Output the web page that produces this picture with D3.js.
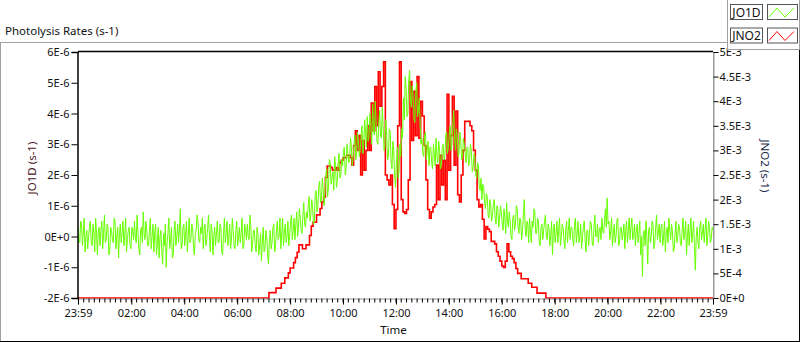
<!DOCTYPE html>
<html>
<head>
<meta charset="utf-8">
<script src="https://cdn.jsdelivr.net/npm/d3@7"></script>
<style>
  body { margin: 0; background: #fff; }
  svg text { font-family: "Noto Sans", sans-serif; fill: #111; }
</style>
</head>
<body>
<div id="chart"></div>
<script>
// ---- data ----
const chartTitle = "Photolysis Rates (s-1)";
const xTitle = "Time";
const leftTitle = "JO1D (s-1)";
const rightTitle = "JNO2 (s-1)";
const seriesNames = ["JO1D", "JNO2"];

const xTickLabels = ["23:59", "02:00", "04:00", "06:00", "08:00", "10:00", "12:00",
  "14:00", "16:00", "18:00", "20:00", "22:00", "23:59"];
// left axis, units of 1E-6 s-1
const leftTickValues = [-2, -1, 0, 1, 2, 3, 4, 5, 6];
const leftTickLabels = ["-2E-6", "-1E-6", "0E+0", "1E-6", "2E-6", "3E-6", "4E-6", "5E-6", "6E-6"];
// right axis, units of 1E-3 s-1
const rightTickValues = [0, 0.5, 1, 1.5, 2, 2.5, 3, 3.5, 4, 4.5, 5];
const rightTickLabels = ["0E+0", "5E-4", "1E-3", "1.5E-3", "2E-3", "2.5E-3", "3E-3",
  "3.5E-3", "4E-3", "4.5E-3", "5E-3"];

// JO1D, one value every 2 min from 23:59 (previous day), units of 1E-6 s-1
const jo1dStart = "23:59";
const jo1dStepMin = 2;
const jo1d = [
  0.3, -0.1, -0.2, 0.5, 0.4, -0.3, 0.1, 0.6, -0.5, 0.0, 0.2, -0.4, 0.0, 0.3, 0.5, -0.2, -0.3, 0.4, 0.1, -0.5,
  0.6, 0.1, -0.6, 0.2, 0.3, -0.3, 0.2, 0.5, -0.4, 0.1, 0.7, -0.2, -0.1, 0.4, 0.3, -0.6, -0.5, 0.3, 0.2, -0.1,
  -0.2, 0.6, 0.5, -0.4, 0.0, 0.3, -0.7, 0.1, 0.4, -0.2, 0.1, 0.5, -0.3, 0.0, 0.6, -0.5, -0.1, 0.2, 0.3, -0.3,
  -0.4, 0.3, 0.2, -0.1, 0.5, 0.0, -0.2, 0.7, 0.1, -0.4, -0.6, 0.2, 0.3, -0.2, 0.8, 0.1, -0.1, 0.5, 0.2, -0.3,
  -0.3, 0.2, 0.6, -0.4, 0.0, 0.4, -0.5, 0.1, 0.4, -0.6, -0.2, 0.3, -0.7, 0.0, 0.2, -0.5, -0.9, 0.1, -0.3, 0.4,
  -1.0, -0.2, 0.1, 0.6, -0.4, -0.1, 0.3, -0.7, -0.6, 0.2, 0.5, -0.3, 0.0, 0.4, -0.2, 0.2, 0.9, -0.4, -0.3, 0.3,
  0.4, -0.3, 0.1, 0.5, -0.5, 0.0, 0.6, -0.2, -0.1, 0.4, 0.3, -0.4, -0.6, 0.1, 0.2, 0.7, 0.5, -0.1, -0.2, 0.3,
  0.1, 0.6, -0.4, 0.2, 0.4, -0.3, -0.1, 0.3, 0.7, 0.0, -0.5, 0.4, 0.2, -0.6, 0.0, 0.3, -0.3, 0.1, 0.5, -0.2,
  -0.2, 0.4, 0.3, -0.5, -0.6, 0.1, 0.6, -0.2, 0.1, 0.5, -0.3, 0.0, 0.4, -0.4, -0.1, 0.6, 0.2, -0.3, -0.4, 0.2,
  0.5, -0.3, 0.0, 0.3, -0.2, 0.1, 0.6, -0.4, -0.3, 0.4, 0.2, -0.1, 0.4, 0.0, -0.1, 0.7, 0.3, -0.5, -0.2, 0.2,
  0.2, -0.3, -0.5, 0.3, 0.1, -0.6, -0.3, 0.1, -0.8, -0.2, 0.3, -0.5, -0.4, 0.2, 0.0, -0.6, -0.9, -0.1, 0.2, -0.4,
  -0.2, 0.3, 0.4, -0.5, -0.3, 0.2, 0.5, -0.1, 0.0, 0.6, -0.4, 0.1, 0.6, -0.3, 0.1, 0.4, -0.2, 0.0, 0.5, -0.3,
  0.0, 0.5, 0.7, -0.1, 0.2, 0.6, -0.1, 0.4, 0.8, 0.0, 0.3, 0.9, 0.6, 0.2, 0.1, 0.7, 1.1, 0.4, 0.3, 0.8,
  0.6, 1.0, 1.3, 0.5, 0.7, 1.2, 1.0, 0.4, 0.5, 1.4, 1.5, 0.8, 1.0, 1.6, 1.8, 1.1, 1.2, 1.9, 1.6, 1.0,
  1.4, 2.0, 2.2, 1.3, 1.6, 2.5, 2.4, 1.7, 1.9, 2.1, 1.5, 2.6, 2.3, 1.6, 1.8, 2.4, 2.7, 1.9, 2.0, 2.5,
  2.3, 2.8, 2.9, 2.0, 2.2, 3.0, 2.7, 2.4, 2.5, 3.2, 2.9, 2.3, 2.6, 3.0, 3.3, 2.5, 2.7, 3.4, 3.1, 2.6,
  2.8, 3.3, 3.6, 2.7, 3.0, 3.8, 3.4, 2.9, 3.9, 3.1, 3.2, 4.0, 3.7, 3.0, 4.3, 3.5, 3.3, 4.4, 3.8, 3.1,
  3.0, 3.7, 4.1, 3.3, 3.2, 4.2, 3.6, 2.8, 2.9, 3.8, 3.3, 2.5, 2.6, 3.5, 3.4, 2.4, 2.2, 3.1, 2.8, 2.0,
  1.6, 2.4, 2.9, 1.9, 2.1, 3.0, 2.6, 3.5, 3.2, 4.5, 3.8, 5.2, 4.8, 3.9, 4.0, 5.1, 5.4, 4.4, 4.2, 4.9,
  4.6, 3.8, 3.7, 4.7, 5.0, 3.9, 4.1, 4.5, 3.6, 3.0, 3.2, 2.7, 2.6, 3.3, 3.4, 2.5, 2.8, 3.1, 2.3, 2.9,
  2.9, 2.4, 2.2, 3.0, 2.7, 2.3, 3.2, 2.6, 2.4, 3.1, 2.8, 2.2, 2.3, 2.9, 3.0, 2.5, 2.6, 3.3, 3.4, 2.7,
  2.9, 3.4, 3.6, 2.8, 3.0, 3.7, 4.1, 3.2, 2.8, 3.5, 3.3, 2.6, 2.7, 3.4, 3.1, 2.5, 2.6, 3.2, 3.0, 2.7,
  2.4, 2.9, 2.9, 2.3, 2.5, 3.0, 2.8, 2.1, 2.2, 2.7, 2.6, 2.0, 1.9, 2.4, 2.3, 1.6, 1.5, 1.9, 1.2, 1.7,
  1.6, 1.1, 0.9, 1.4, 1.3, 0.7, 0.6, 1.2, 1.0, 0.5, 0.7, 1.1, 1.2, 0.6, 0.4, 1.0, 0.9, 0.3, 0.6, 1.0,
  0.8, 0.4, 0.2, 0.9, 0.6, 0.1, 1.1, 0.5, 0.3, 0.8, 0.5, 0.0, -0.1, 0.6, 0.7, 0.2, 0.4, 1.0, 0.9, 0.3,
  0.1, 0.6, 0.5, -0.1, 0.2, 0.7, 1.2, 0.3, 0.0, 0.5, 0.4, -0.2, 0.6, 0.2, -0.2, 0.5, 0.3, 0.9, 0.8, 0.1,
  0.1, 0.6, 0.5, -0.2, -0.3, 0.3, 0.4, -0.1, 0.2, 0.5, 0.7, 0.0, -0.1, 0.4, 0.3, -0.3, 0.0, 0.5, -0.6, 0.2,
  0.4, -0.2, 0.1, 0.5, -0.2, 0.2, 0.6, -0.3, 0.0, 0.4, 0.3, -0.1, -0.4, 0.2, 0.5, -0.2, 0.2, 0.6, -0.1, 0.3,
  0.3, -0.1, -0.3, 0.4, 0.6, -0.2, 0.1, 0.5, -0.2, 0.0, 0.4, -0.4, 0.0, 0.3, 0.5, -0.1, -0.5, 0.2, 0.2, -0.3,
  0.1, 0.5, 0.4, -0.2, -0.3, 0.3, 0.7, 0.0, 0.0, 0.4, -0.2, 0.2, 0.3, -0.1, 0.6, 0.2, 0.1, 0.5, 0.9, 0.3,
  1.25, 0.4, 0.5, -0.1, 0.2, 0.6, -0.3, 0.1, 0.4, -0.2, 0.0, 0.5, 0.6, -0.3, -0.2, 0.3, 0.3, -0.1, 0.1, 0.4,
  -0.4, 0.2, 0.5, -0.2, 0.2, 0.6, -0.1, 0.3, 0.6, -0.1, 0.0, 0.4, -0.3, 0.2, 0.4, -0.2, 0.1, 0.5, -0.6, 0.0,
  -1.3, 0.1, 0.2, -0.3, 0.5, 0.0, -0.9, 0.2, 0.3, -0.2, 0.0, 0.5, 0.4, -0.4, -0.2, 0.3, 0.7, -0.1, 0.1, 0.4,
  -0.2, 0.3, 0.4, -0.3, 0.0, 0.5, -0.5, 0.1, 0.3, -0.2, 0.6, 0.2, -0.1, 0.4, 0.2, -0.5, -0.4, 0.1, 0.5, -0.2,
  0.0, 0.4, 0.3, -0.2, -0.3, 0.2, 0.6, -0.1, 0.1, 0.5, -0.6, 0.0, 0.4, -0.3, 0.2, 0.6, -0.2, 0.1, 0.5, -0.4,
  -1.1, 0.0, 0.3, -0.2, -0.4, 0.3, 0.5, -0.1, 0.1, 0.4, -0.2, 0.2, 0.6, -0.3, 0.0, 0.5, 0.3, -0.2, -0.1, 0.3,
  0.2
];

// JNO2, one value every 4 min from 07:08, zero outside, units of 1E-3 s-1
const jno2Start = "07:08";
const jno2StepMin = 4;
const jno2 = [
  0, 0.11, 0.11, 0.11, 0.11, 0.20, 0.20, 0.20, 0.30, 0.30,
  0.41, 0.41, 0.51, 0.61, 0.61, 0.72, 0.82, 0.93, 1.08, 1.08,
  1.00, 1.00, 1.08, 1.08, 1.27, 1.46, 1.54, 1.54, 1.69, 1.69,
  1.82, 1.95, 2.05, 2.45, 2.68, 2.68, 2.65, 2.6, 2.6, 2.65,
  2.6, 2.75, 2.8, 2.85, 2.85, 2.9, 2.9, 2.85, 2.7, 3.1,
  3.4, 3.0, 3.3, 2.5, 3.2, 2.6, 3.0, 3.5, 3.0, 3.96,
  3.4, 4.3, 3.5, 4.6, 3.9, 4.3, 4.8, 2.5, 2.4, 2.3,
  2.5, 1.9, 1.41, 1.8, 3.5, 4.8, 2.0, 1.75, 1.72, 1.8,
  2.4, 4.4, 3.2, 4.2, 3.3, 4.5, 3.25, 4.0, 3.7, 3.1,
  2.4, 1.8, 1.62, 1.75, 1.85, 1.9, 2.7, 2.0, 2.9, 2.3,
  2.8, 2.0, 4.14, 2.6, 3.3, 4.1, 2.7, 3.8, 2.1, 1.95,
  2.5, 3.0, 3.59, 3.59, 3.59, 3.5, 3.4, 3.0, 2.6, 2.0,
  1.85, 1.9, 1.6, 1.2, 1.45, 1.4, 1.35, 1.15, 1.15, 1.1,
  0.94, 0.85, 0.75, 0.65, 0.62, 0.75, 1.1, 0.94, 0.85, 0.8,
  0.72, 0.6, 0.5, 0.5, 0.39, 0.39, 0.39, 0.39, 0.3, 0.3,
  0.22, 0.22, 0.22, 0.1, 0.1, 0.1, 0.1, 0.1, 0, 0, 0
];

const seriesColors = ["#66ff00", "#ff0000"];

// ---- drawing ----
function main() {
    const width = 800;
    const height = 342;
    const plot = { left: 78, top: 52, right: 713, bottom: 298 };

    const toMin = (s) => { const p = s.split(":"); return +p[0] * 60 + +p[1]; };
    const dayStart = toMin(xTickLabels[0]) - 1440;   // 23:59 the day before
    const dayEnd = toMin(xTickLabels[xTickLabels.length - 1]);

    const svg = d3.select("#chart")
        .append("svg")
        .attr("width", width)
        .attr("height", height)

    const x = d3.scaleLinear().domain([dayStart, dayEnd]).range([plot.left, plot.right]);
    const yL = d3.scaleLinear().domain([-2, 6]).range([plot.bottom, plot.top]);
    const yR = d3.scaleLinear().domain([0, 5]).range([plot.bottom, plot.top]);

    // outer panel frame
    svg.append("line").attr("x1", 0).attr("x2", 727).attr("y1", 42.5).attr("y2", 42.5)
        .attr("stroke", "#a0a0a0")
    svg.append("line").attr("x1", 0.5).attr("x2", 0.5).attr("y1", 42).attr("y2", 342)
        .attr("stroke", "#a0a0a0")
    svg.append("line").attr("x1", 0).attr("x2", 800).attr("y1", 341.5).attr("y2", 341.5)
        .attr("stroke", "#000")
    svg.append("line").attr("x1", 799.5).attr("x2", 799.5).attr("y1", 49).attr("y2", 342)
        .attr("stroke", "#000")

    svg.append("text").attr("x", 5).attr("y", 35).style("font-size", "11.5px").text(chartTitle)

    // plot area
    svg.append("rect").attr("x", plot.left).attr("y", plot.top)
        .attr("width", plot.right - plot.left).attr("height", plot.bottom - plot.top)
        .attr("fill", "#fff")

    svg.append("clipPath").attr("id", "clip")
        .append("rect").attr("x", plot.left).attr("y", plot.top - 1)
        .attr("width", plot.right - plot.left + 1).attr("height", plot.bottom - plot.top + 2)

    const g = svg.append("g").attr("clip-path", "url(#clip)")

    const greenStart = toMin(jo1dStart) - 1440
    const greenPts = jo1d.map((v, i) => ({ t: greenStart + i * jo1dStepMin, v: v }))
    const redStart = toMin(jno2Start)
    const redPts = [{ t: dayStart, v: 0 }]
        .concat(jno2.map((v, i) => ({ t: redStart + i * jno2StepMin, v: v })))
        .concat([{ t: dayEnd, v: 0 }])

    g.append("path")
        .datum(redPts)
        .attr("fill", "none")
        .attr("stroke", seriesColors[1])
        .attr("stroke-width", 1.6)
        .attr("d", d3.line().curve(d3.curveStepAfter).x(d => x(d.t)).y(d => yR(d.v)))

    g.append("path")
        .datum(greenPts)
        .attr("fill", "none")
        .attr("stroke", seriesColors[0])
        .attr("stroke-width", 1)
        .attr("d", d3.line().x(d => x(d.t)).y(d => yL(d.v)))

    // plot borders: top/left dark, right/bottom grey
    svg.append("line").attr("x1", plot.left).attr("x2", plot.right).attr("y1", plot.top - 0.5).attr("y2", plot.top - 0.5)
        .attr("stroke", "#000").attr("stroke-width", 1.5)
    svg.append("line").attr("x1", plot.right + 0.5).attr("x2", plot.right + 0.5).attr("y1", plot.top).attr("y2", plot.bottom + 1)
        .attr("stroke", "#999")

    // axes
    const xTickMins = xTickLabels.map((s, i) => i === 0 ? dayStart : toMin(s))
    const xAxis = svg.append("g").attr("transform", `translate(0,${plot.bottom + 0.5})`)
        .call(d3.axisBottom(x).tickValues(xTickMins).tickSize(6).tickPadding(5)
            .tickFormat((d, i) => xTickLabels[i]))
    const minor = d3.range(0, dayEnd + 1, 12)
    xAxis.selectAll(".minor").data(minor).join("line").attr("class", "minor")
        .attr("x1", d => x(d)).attr("x2", d => x(d)).attr("y1", 0).attr("y2", 4)
        .attr("stroke", "#000")
    xAxis.select(".domain").attr("stroke", "#999")

    const leftAxis = svg.append("g").attr("transform", `translate(${plot.left - 0.5},0)`)
        .call(d3.axisLeft(yL).tickValues(leftTickValues).tickSize(6).tickPadding(2)
            .tickFormat((d, i) => leftTickLabels[i]))
    leftAxis.select(".domain").attr("stroke", "#000").attr("stroke-width", 1.5)

    const rightAxis = svg.append("g").attr("transform", `translate(${plot.right + 0.5},0)`)
        .call(d3.axisRight(yR).tickValues(rightTickValues).tickSize(5).tickPadding(1)
            .tickFormat((d, i) => rightTickLabels[i]))
    rightAxis.select(".domain").attr("stroke", "#999")

    svg.selectAll(".tick text").style("font-size", "11px").attr("fill", "#111")
    svg.selectAll(".tick line").attr("stroke", "#000")

    // axis titles
    svg.append("text").attr("x", (plot.left + plot.right) / 2 - 2).attr("y", 334)
        .attr("text-anchor", "middle").style("font-size", "11.5px").text(xTitle)
    svg.append("text").attr("transform", "translate(36,168) rotate(-90)")
        .attr("text-anchor", "middle").style("font-size", "11.5px").style("fill", "#4a1528").text(leftTitle)
    svg.append("text").attr("transform", "translate(761,166) rotate(90)")
        .attr("text-anchor", "middle").style("font-size", "11.5px").style("fill", "#1a2a4a").text(rightTitle)

    // legend
    const leg = svg.append("g")
    leg.append("rect").attr("x", 727.5).attr("y", -1).attr("width", 72).attr("height", 50.5)
        .attr("fill", "#fff").attr("stroke", "#a0a0a0")
    seriesNames.forEach((name, i) => {
        const y0 = 4 + i * 23.5
        leg.append("rect").attr("x", 730.5).attr("y", y0 + 0.5).attr("width", 32).attr("height", 15)
            .attr("fill", "#fff").attr("stroke", "#555")
        leg.append("text").attr("x", 746.5).attr("y", y0 + 12.5).attr("text-anchor", "middle")
            .style("font-size", "12px").text(name)
        leg.append("rect").attr("x", 767.5).attr("y", y0 + 0.5).attr("width", 30).attr("height", 15)
            .attr("fill", "#fff").attr("stroke", "#555")
        leg.append("polyline")
            .attr("points", [[769, y0 + 13], [777, y0 + 4], [785, y0 + 13], [794, y0 + 4]].map(p => p.join(",")).join(" "))
            .attr("fill", "none").attr("stroke", seriesColors[i]).attr("stroke-width", 1)
    })
}
main();
</script>
</body>
</html>
